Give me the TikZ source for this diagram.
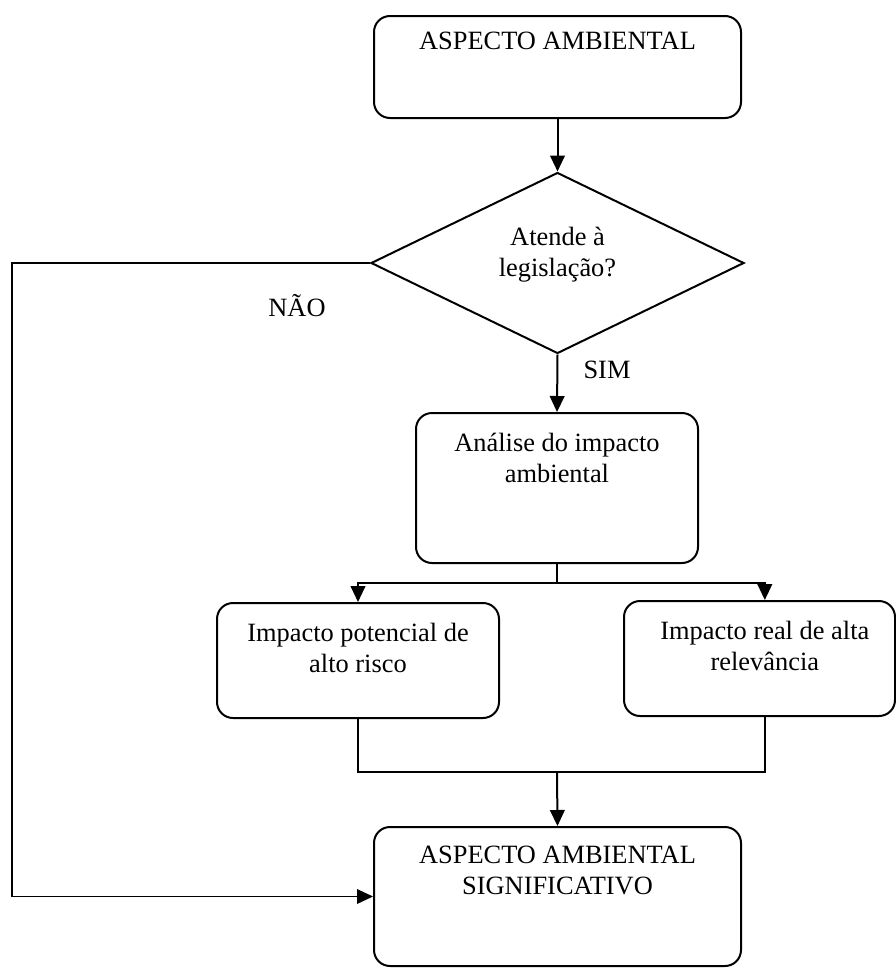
\documentclass[tikz,border=0pt]{standalone}
\usepackage{fontspec}
\setmainfont{Liberation Serif}
\usetikzlibrary{positioning,shapes.geometric,arrows.meta}

\begin{document}
\begin{tikzpicture}[x=0.75pt, y=-0.75pt, line width=1.5pt,
    font=\fontsize{19.8pt}{23.2pt}\selectfont,
    box/.style={draw, rounded corners=12pt, inner sep=0pt},
    dec/.style={draw, diamond, inner sep=0pt},
    txt/.style={inner sep=0pt, align=center, execute at begin node=\strut},
    arr/.style={-{Triangle[length=12pt,width=11pt]}}]
    \useasboundingbox (0,0) rectangle (896,971);
    % caixas
    \node[box, minimum width=275.25pt, minimum height=76.5pt] (top) at (557.5,67) {};
    \node[dec, minimum width=279.75pt, minimum height=135.75pt] (dec) at (557.5,263) {};
    \node[box, minimum width=211.5pt, minimum height=112.5pt] (ana) at (557,488) {};
    \node[box, minimum width=211.5pt, minimum height=86.25pt] (lbox) at (358,660.5) {};
    \node[box, minimum width=203.25pt, minimum height=86.25pt] (rbox) at (759.5,658.5) {};
    \node[box, minimum width=275.25pt, minimum height=104.25pt] (bot) at (557.5,896.5) {};
    % textos
    \node[txt, below=9.2pt of top.north] (ttop) {ASPECTO AMBIENTAL};
    \node[txt, below=40.7pt of dec.north] (tdec) {Atende à\\legislação?};
    \node[txt, below=15.2pt of ana.north] (tana) {Análise do impacto\\ambiental};
    \node[txt, below=15.2pt of lbox.north] (tlbox) {Impacto potencial de\\alto risco};
    \node[txt, below=15.2pt of rbox.north, xshift=4pt] (trbox) {Impacto real de alta\\relevância};
    \node[txt, below=14.5pt of bot.north] (tbot) {ASPECTO AMBIENTAL\\SIGNIFICATIVO};
    \node[inner sep=0pt, anchor=base] (nao) at (297,316) {NÃO};
    \node[inner sep=0pt, anchor=base] (sim) at (607,378) {SIM};
    % pontos de ligacao
    \coordinate (sp) at (557,583);
    \coordinate (jn) at (557,772);
    \coordinate (lft) at (12,263);
    % ligacoes
    \draw[arr] (top.south) -- (dec.north);
    \draw[arr] (dec.south) -- (ana.north);
    \draw (ana.south) -- (sp);
    \draw[arr] (sp) -| (lbox.north);
    \draw[arr] (sp) -| ([xshift=4pt]rbox.north);
    \draw (lbox.south) |- (jn) -| ([xshift=4pt]rbox.south);
    \draw[arr] (jn) -- (bot.north);
    \draw[arr, line width=1.1pt] (dec.west) -- (lft) |- (bot.west);
\end{tikzpicture}
\end{document}
